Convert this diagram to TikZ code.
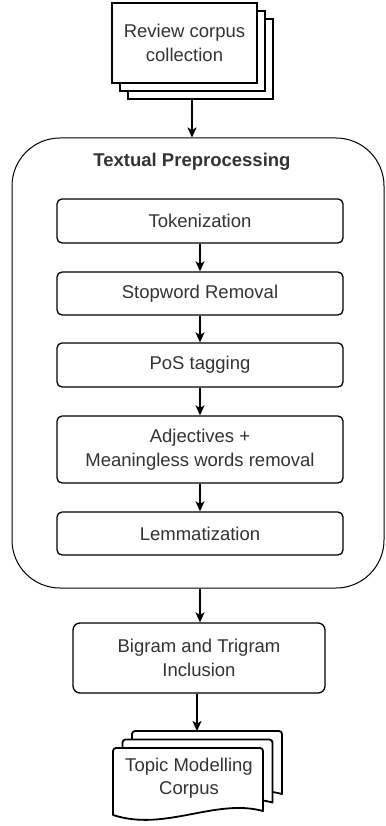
\documentclass[tikz,border=0pt]{standalone}
\usepackage{fontspec}
\setmainfont{Liberation Sans}
\usetikzlibrary{arrows.meta}
\definecolor{txt}{HTML}{333333}
\tikzset{
  lbl/.style={font=\fontsize{18.5}{23.5}\selectfont, text=txt, align=center},
  stepbox/.style={lbl, draw=black, line width=1.3pt, fill=white, rounded corners=5pt,
    minimum width=286pt, inner sep=0pt},
  group/.style={draw=black, line width=1pt, rounded corners=48pt, inner sep=0pt,
    minimum width=372pt, minimum height=450pt},
  sheet/.style={draw=black, line width=1.3pt, fill=white},
  docsheet/.style={draw=black, line width=1.8pt, fill=white, line join=round},
  arr/.style={line width=1.6pt, -{Stealth[length=10pt,width=9pt,inset=2.5pt]}}
}
% bottom-edged document sheet, top-left corner at (0,0)
\newcommand\docsheetpath{(0,4) [rounded corners=3pt] -- (0,0) -- (150,0) [sharp corners] -- (150,63)
  .. controls (102,50) and (52,84) .. (0,67) -- cycle}
\begin{document}
\begin{tikzpicture}[x=1pt,y=-1pt]
\useasboundingbox (0,0) rectangle (385,826);

% stacked input sheets
\node[sheet, minimum width=145pt, minimum height=80pt] (rev3) at (200.5,59) {};
\node[sheet, minimum width=145pt, minimum height=80pt] (rev2) at (192.5,51) {};
\node[sheet, lbl, minimum width=145pt, minimum height=80pt, inner sep=0pt] (rev) at (184.5,43)
  {Review corpus\\collection};

% preprocessing group
\node[group] (pre) at (198,363) {};
\node[lbl, font=\fontsize{18.5}{23.5}\selectfont\bfseries] (title) at (192,162) {Textual Preprocessing};

\node[stepbox, minimum height=44pt] (tok) at (200,221) {Tokenization};
\node[stepbox, minimum height=43pt] (stop) at (200,293.5) {Stopword Removal};
\node[stepbox, minimum height=44pt] (pos) at (200,365) {PoS tagging};
\node[stepbox, minimum height=67pt] (adj) at (200,449.5) {Adjectives +\\Meaningless words removal};
\node[stepbox, minimum height=43pt] (lem) at (200,533.5) {Lemmatization};

\node[stepbox, minimum width=252pt, minimum height=70pt, rounded corners=7pt] (big) at (199,658)
  {Bigram and Trigram\\Inclusion};

% output document stack
\foreach \dx/\dy in {132/731, 122.5/739.5, 113/748}
  \draw[docsheet, shift={(\dx,\dy)}] \docsheetpath;
\coordinate (docs) at (197,731);
\node[lbl] (topic) at (189,778) {Topic Modelling\\Corpus};

% connectors
\draw[arr] (rev3.south -| title) -- (title |- pre.north);
\draw[arr] (tok) -- (stop);
\draw[arr] (stop) -- (pos);
\draw[arr] (pos) -- (adj);
\draw[arr] (adj) -- (lem);
\draw[arr] (pre.south -| lem) -- (big.north -| lem);
\draw[arr] (big.south -| docs) -- (docs);
\end{tikzpicture}
\end{document}
